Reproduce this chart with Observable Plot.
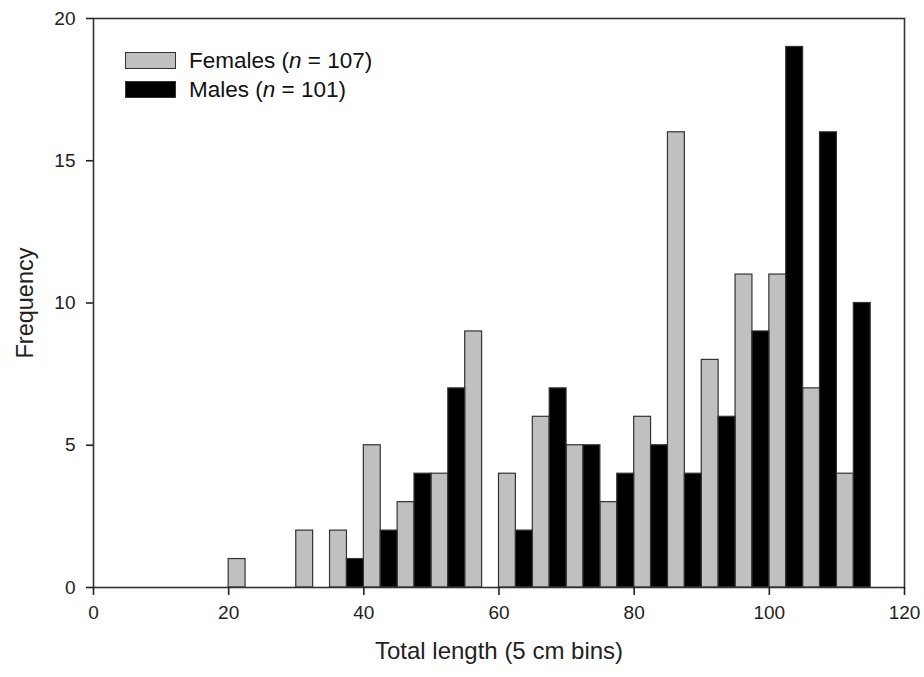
<!DOCTYPE html>
<html>
<head>
<meta charset="utf-8">
<script src="https://cdn.jsdelivr.net/npm/d3@7"></script>
<script src="https://cdn.jsdelivr.net/npm/@observablehq/plot@0.6"></script>
<style>
  html, body { margin: 0; padding: 0; background: #fff; }
  #wrap { position: relative; width: 924px; height: 677px; font-family: "Liberation Sans", Arial, sans-serif; }
  #legend { position: absolute; left: 125px; top: 46px; font-size: 22.5px; color: #111; line-height: 29px; }
  #legend .row { display: flex; align-items: center; }
  #legend .sw { width: 51px; height: 17px; box-sizing: border-box; border: 1px solid #333; margin-right: 13px; }
</style>
</head>
<body>
<div id="wrap"><div id="legend"></div></div>
<script>
const bins = [20, 25, 30, 35, 40, 45, 50, 55, 60, 65, 70, 75, 80, 85, 90, 95, 100, 105, 110];
const females = [1, 0, 2, 2, 5, 3, 4, 9, 4, 6, 5, 3, 6, 16, 8, 11, 11, 7, 4];
const males   = [0, 0, 0, 1, 2, 4, 7, 0, 2, 7, 5, 4, 5, 4, 6, 9, 19, 16, 10];
const series = [
  {name: "Females", n: 107, values: females, fill: "#c0c0c0", offset: 0},
  {name: "Males", n: 101, values: males, fill: "#000000", offset: 2.5}
];
const xTicks = [0, 20, 40, 60, 80, 100, 120];
const yTicks = [0, 5, 10, 15, 20];
const xLabel = "Total length (5 cm bins)";
const yLabel = "Frequency";
const halfWidth = 2.5;

const rows = series.flatMap(s => bins.map((b, i) => ({
  series: s.name, x1: b + s.offset, x2: b + s.offset + halfWidth, y: s.values[i], fill: s.fill
}))).filter(d => d.y > 0);

const chart = Plot.plot({
  width: 924,
  height: 677,
  marginLeft: 93,
  marginRight: 20,
  marginTop: 18,
  marginBottom: 90,
  style: {fontFamily: "Liberation Sans, Arial, sans-serif", color: "#222", background: "#fff"},
  x: {domain: [0, 120]},
  y: {domain: [0, 20]},
  marks: [
    Plot.rectY(rows, {x1: "x1", x2: "x2", y: "y", fill: "fill", stroke: "#333", strokeWidth: 1.2}),
    Plot.frame({stroke: "#333", strokeWidth: 1.6}),
    Plot.axisX({ticks: xTicks, tickSize: 8, tickPadding: 10, tickFormat: d => d, fontSize: 19,
      stroke: "#222", strokeWidth: 1.6, label: null}),
    Plot.axisY({ticks: yTicks, tickSize: 7, tickPadding: 11, tickFormat: d => d, fontSize: 19,
      stroke: "#222", strokeWidth: 1.6, label: null}),
    Plot.text([xLabel], {text: d => d, frameAnchor: "bottom", dy: 71, fontSize: 24, fill: "#222"}),
    Plot.text([yLabel], {text: d => d, frameAnchor: "left", textAnchor: "middle", rotate: -90, dx: -68, fontSize: 23.5, fill: "#222"})
  ]
});
document.getElementById("wrap").prepend(chart);

const legend = d3.select("#legend");
series.forEach(s => {
  const row = legend.append("div").attr("class", "row");
  row.append("div").attr("class", "sw").style("background", s.fill);
  row.append("span").html(`${s.name} (<i>n</i> = ${s.n})`);
});
</script>
</body>
</html>
